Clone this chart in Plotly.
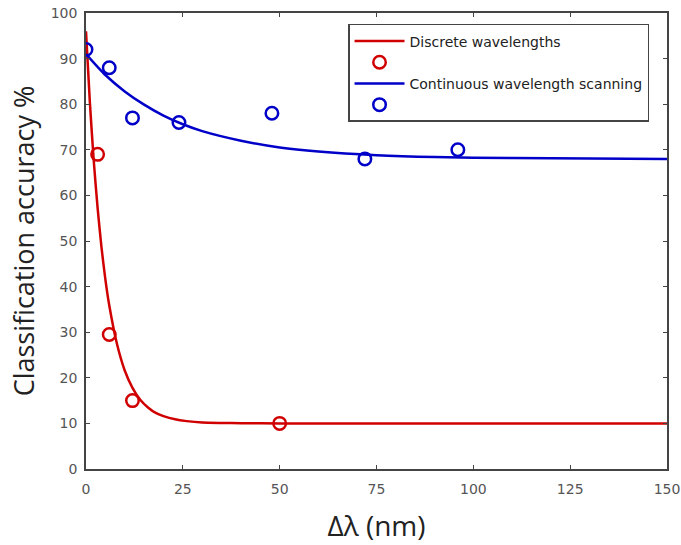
import plotly.graph_objects as go

# Measured classification accuracy (%) vs wavelength spacing (nm)
discrete_x = [3, 6, 12, 50]
discrete_y = [69, 29.5, 15, 10]
continuous_x = [0, 6, 12, 24, 48, 72, 96]
continuous_y = [92, 88, 77, 76, 78, 68, 70]

# Fitted exponential-decay trend lines
discrete_fit_x = [0, 1, 2, 3, 4, 5, 6, 8, 10, 12, 14, 16, 18, 20, 23, 26, 30,
                  35, 40, 50, 70, 100, 150]
discrete_fit_y = [96, 80.4, 67.6, 57.2, 48.6, 41.6, 35.9, 27.4, 21.6, 17.8,
                  15.2, 13.5, 12.3, 11.6, 10.9, 10.5, 10.2, 10.1, 10.05, 10.0,
                  10.0, 10.0, 10.0]
continuous_fit_x = [0, 5, 10, 15, 20, 25, 30, 40, 50, 60, 75, 90, 110, 130, 150]
continuous_fit_y = [91, 86.4, 82.8, 79.9, 77.5, 75.6, 74.1, 72.0, 70.5, 69.6,
                    68.8, 68.4, 68.2, 68.1, 68.0]

x_ticks = [0, 25, 50, 75, 100, 125, 150]
y_ticks = [0, 10, 20, 30, 40, 50, 60, 70, 80, 90, 100]

RED = "#d00000"
BLUE = "#0000c8"
TICK_FONT = "DejaVu Sans"
TITLE_FONT = "Open Sans"

fig = go.Figure()
fig.add_trace(go.Scatter(
    x=discrete_fit_x, y=discrete_fit_y, mode="lines",
    line=dict(color=RED, width=2.5, shape="spline", smoothing=0.6),
    name="Discrete wavelengths"))
fig.add_trace(go.Scatter(
    x=discrete_x, y=discrete_y, mode="markers",
    marker=dict(symbol="circle-open", size=12.5, color=RED, line=dict(width=2.5)),
    name=" "))
fig.add_trace(go.Scatter(
    x=continuous_fit_x, y=continuous_fit_y, mode="lines",
    line=dict(color=BLUE, width=2.5, shape="spline", smoothing=0.6),
    name="Continuous wavelength scanning"))
fig.add_trace(go.Scatter(
    x=continuous_x, y=continuous_y, mode="markers",
    marker=dict(symbol="circle-open", size=12.5, color=BLUE, line=dict(width=2.5)),
    name="  "))

axis_common = dict(
    showgrid=False, zeroline=False, showline=True, linecolor="#444",
    linewidth=1.5, mirror="ticks", ticks="inside", ticklen=4,
    tickcolor="#444", automargin=False,
    tickfont=dict(family=TICK_FONT, size=14, color="#555"),
)

fig.update_layout(
    width=681, height=545,
    margin=dict(l=86, r=14, t=13, b=76),
    paper_bgcolor="white", plot_bgcolor="white",
    xaxis=dict(range=[0, 150], tickvals=x_ticks, ticklabelstandoff=6,
               title=dict(text="Δλ (nm)", standoff=21,
                          font=dict(family=TITLE_FONT, size=28, color="#222")),
               **axis_common),
    yaxis=dict(range=[0, 100], tickvals=y_ticks, ticklabelstandoff=4,
               title=dict(text="Classification accuracy %", standoff=8,
                          font=dict(family=TITLE_FONT, size=27, color="#222")),
               **axis_common),
    legend=dict(x=0.451, y=0.976, xanchor="left", yanchor="top",
                bgcolor="white", bordercolor="#444", borderwidth=1.5,
                font=dict(family=TICK_FONT, size=14, color="#222"),
                tracegroupgap=0, itemwidth=50),
    showlegend=True,
)

fig.write_html("out.html")
